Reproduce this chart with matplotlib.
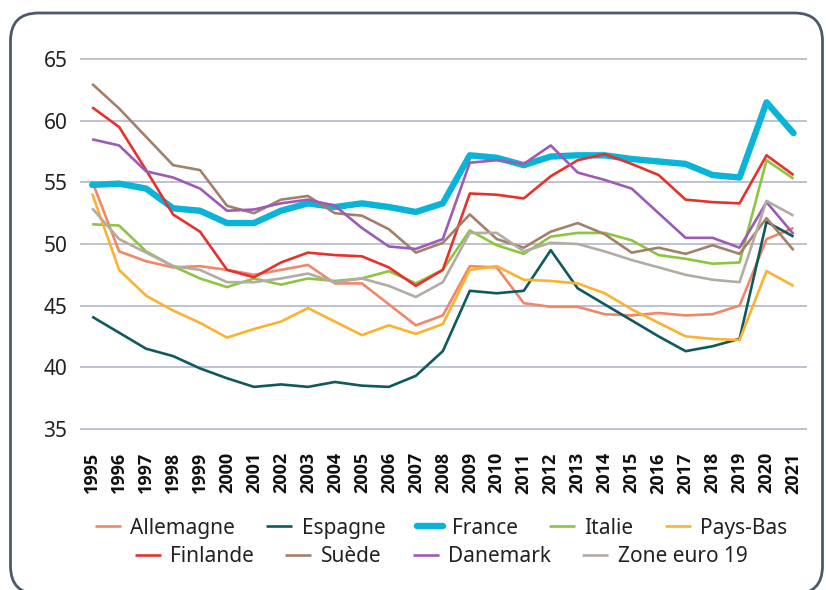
import numpy as np
import matplotlib.pyplot as plt
from matplotlib.patches import FancyBboxPatch
from matplotlib.transforms import IdentityTransform

plt.rcParams['font.family'] = ['Noto Sans', 'DejaVu Sans']

years = list(range(1995, 2022))

allemagne = [55.1, 49.4, 48.6, 48.1, 48.2, 47.9, 47.5, 47.9, 48.3, 46.8, 46.8, 45.1, 43.4, 44.2,
             48.2, 48.1, 45.2, 44.9, 44.9, 44.3, 44.2, 44.4, 44.2, 44.3, 45.0, 50.4, 51.3]
espagne = [44.1, 42.8, 41.5, 40.9, 39.9, 39.1, 38.4, 38.6, 38.4, 38.8, 38.5, 38.4, 39.3, 41.3,
           46.2, 46.0, 46.2, 49.5, 46.4, 45.1, 43.8, 42.5, 41.3, 41.7, 42.3, 51.8, 50.6]
france = [54.8, 54.9, 54.5, 52.9, 52.7, 51.7, 51.7, 52.7, 53.3, 53.0, 53.3, 53.0, 52.6, 53.3,
          57.2, 57.0, 56.4, 57.1, 57.2, 57.2, 56.9, 56.7, 56.5, 55.6, 55.4, 61.5, 59.0]
italie = [51.6, 51.5, 49.4, 48.2, 47.2, 46.5, 47.2, 46.7, 47.2, 47.0, 47.2, 47.8, 46.8, 47.9,
          51.1, 49.9, 49.2, 50.6, 50.9, 50.9, 50.3, 49.1, 48.8, 48.4, 48.5, 56.8, 55.3]
pays_bas = [54.1, 47.9, 45.8, 44.6, 43.6, 42.4, 43.1, 43.7, 44.8, 43.7, 42.6, 43.4, 42.7, 43.5,
            47.9, 48.2, 47.1, 47.0, 46.8, 46.0, 44.7, 43.6, 42.5, 42.3, 42.2, 47.8, 46.6]
finlande = [61.1, 59.5, 56.0, 52.4, 51.0, 47.9, 47.3, 48.5, 49.3, 49.1, 49.0, 48.1, 46.6, 47.9,
            54.1, 54.0, 53.7, 55.5, 56.8, 57.3, 56.5, 55.6, 53.6, 53.4, 53.3, 57.2, 55.6]
suede = [63.0, 61.0, 58.7, 56.4, 56.0, 53.1, 52.5, 53.6, 53.9, 52.5, 52.3, 51.2, 49.3, 50.1,
         52.4, 50.4, 49.7, 51.0, 51.7, 50.8, 49.3, 49.7, 49.2, 49.9, 49.2, 52.1, 49.5]
danemark = [58.5, 58.0, 55.9, 55.4, 54.5, 52.7, 52.8, 53.3, 53.6, 53.1, 51.3, 49.8, 49.6, 50.4,
            56.6, 56.8, 56.5, 58.0, 55.8, 55.2, 54.5, 52.5, 50.5, 50.5, 49.7, 53.4, 50.8]
zone_euro = [52.9, 50.4, 49.3, 48.2, 47.9, 46.9, 46.9, 47.2, 47.6, 46.9, 47.2, 46.6, 45.7, 46.9,
             50.9, 50.9, 49.4, 50.1, 50.0, 49.4, 48.7, 48.1, 47.5, 47.1, 46.9, 53.5, 52.3]

series = [
    ('Allemagne', allemagne, '#f0866a', 1.9),
    ('Espagne', espagne, '#0f5a5c', 1.9),
    ('France', france, '#0ab4d9', 4.6),
    ('Italie', italie, '#8cc540', 1.9),
    ('Pays-Bas', pays_bas, '#fbb22f', 1.9),
    ('Finlande', finlande, '#e8302c', 1.9),
    ('Suède', suede, '#a3806a', 1.9),
    ('Danemark', danemark, '#9c5bb5', 1.9),
    ('Zone euro 19', zone_euro, '#b2aca5', 1.9),
]

fig = plt.figure(figsize=(8.26, 5.9), dpi=100)

# rounded frame, in pixels (bottom edge sits just off the image)
frame = FancyBboxPatch((10.5, -4), 812, 581,
                       boxstyle='round,pad=0,rounding_size=28',
                       transform=IdentityTransform(), fill=False,
                       edgecolor='#4d5868', linewidth=2.0, clip_on=False)
fig.patches.append(frame)

ax = fig.add_axes([80 / 826, 160 / 590, 727 / 826, 372 / 590])

handles = []
for name, vals, col, lw in series:
    ln, = ax.plot(years, vals, color=col, linewidth=lw, solid_joinstyle='round',
                  solid_capstyle='round' if lw > 3 else 'butt', label=name)
    handles.append(ln)

ax.set_xlim(1994.55, 2021.5)
ax.set_ylim(34.9, 65.1)
ax.set_yticks([35, 40, 45, 50, 55, 60, 65])
ax.set_xticks(years)
ax.set_xticklabels([str(y) for y in years], rotation=90, fontweight='bold', fontsize=13,
                   family=['Open Sans', 'DejaVu Sans'])
ax.grid(axis='y', color='#b9bdcd', linewidth=1.3)
ax.set_axisbelow(True)
for s in ax.spines.values():
    s.set_visible(False)
ax.tick_params(axis='y', length=0, pad=9, labelsize=15, labelcolor='#222222')
ax.tick_params(axis='x', length=0, pad=16, labelcolor='#111111')

leg1 = fig.legend(handles[:5], [s[0] for s in series[:5]], loc='center',
                  bbox_to_anchor=(0.534, 0.105), ncol=5, frameon=False, fontsize=15,
                  handlelength=1.25, handletextpad=0.45, columnspacing=1.5)
leg2 = fig.legend(handles[5:], [s[0] for s in series[5:]], loc='center',
                  bbox_to_anchor=(0.534, 0.056), ncol=4, frameon=False, fontsize=15,
                  handlelength=1.25, handletextpad=0.45, columnspacing=1.5)
for leg in (leg1, leg2):
    for t in leg.get_texts():
        t.set_color('#222222')

fig.savefig('out.png', dpi=100)
